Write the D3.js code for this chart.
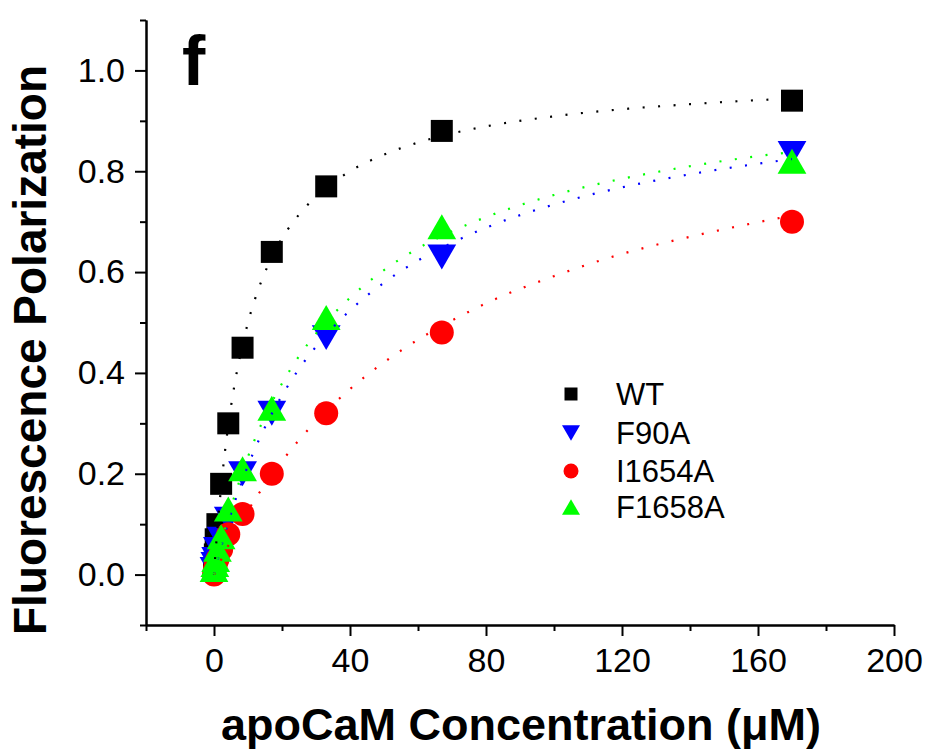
<!DOCTYPE html>
<html>
<head>
<meta charset="utf-8">
<script src="https://cdn.jsdelivr.net/npm/d3@7"></script>
<style>
    body { margin: 0; background: #fff; }
    text { font-family: "Liberation Sans", Arial, sans-serif; }
</style>
</head>
<body>
<div id="chart"></div>
<script>

// apoCaM concentration (uM) for each titration point
var concentrations = [170, 67, 33, 17, 8.4, 4.2, 2.1, 1.0, 0.5, 0.25, 0];

var wtValues     = [0.94, 0.88, 0.77, 0.64, 0.45, 0.30, 0.18, 0.10, 0.07, 0.04, 0.01];
var f90aValues   = [0.835, 0.63, 0.47, 0.32, 0.20, 0.11, 0.07, 0.05, 0.03, 0.02, 0.01];
var i1654aValues = [0.70, 0.48, 0.32, 0.20, 0.12, 0.08, 0.05, 0.03, 0.02, 0.01, 0.00];
var f1658aValues = [0.82, 0.69, 0.51, 0.33, 0.21, 0.13, 0.075, 0.05, 0.03, 0.02, 0.01];

// dotted fit lines
var fitX      = [0, 1, 2, 4, 6, 8, 10, 13, 16, 20, 25, 30, 40, 50, 60, 70, 80, 100, 120, 140, 160, 170];
var wtFit     = [0, 0.091, 0.167, 0.286, 0.375, 0.444, 0.50, 0.565, 0.615, 0.667, 0.714, 0.75, 0.80, 0.833, 0.857, 0.875, 0.889, 0.909, 0.923, 0.933, 0.941, 0.944];
var f90aFit   = [0, 0.027, 0.052, 0.099, 0.142, 0.181, 0.216, 0.264, 0.306, 0.355, 0.408, 0.452, 0.524, 0.579, 0.623, 0.658, 0.688, 0.734, 0.768, 0.794, 0.815, 0.824];
var i1654aFit = [0, 0.014, 0.028, 0.055, 0.080, 0.104, 0.127, 0.159, 0.189, 0.225, 0.267, 0.304, 0.368, 0.421, 0.466, 0.504, 0.538, 0.592, 0.636, 0.670, 0.699, 0.712];
var f1658aFit = [0, 0.030, 0.057, 0.109, 0.155, 0.196, 0.234, 0.284, 0.328, 0.379, 0.433, 0.478, 0.549, 0.604, 0.647, 0.681, 0.709, 0.753, 0.785, 0.810, 0.830, 0.838];

var seriesNames = ['WT', 'F90A', 'I1654A', 'F1658A'];
var seriesColors = ['#000000', '#0000ff', '#ff0000', '#00ff00'];
var seriesShapes = ['square', 'triangleDown', 'circle', 'triangleUp'];

var xMajorTicks = [0, 40, 80, 120, 160, 200];
var xMinorTicks = [-20, 20, 60, 100, 140, 180];
var yMajorTicks = [0.0, 0.2, 0.4, 0.6, 0.8, 1.0];
var yMinorTicks = [-0.1, 0.1, 0.3, 0.5, 0.7, 0.9, 1.1];

var series = [
    { values: wtValues, fit: wtFit },
    { values: f90aValues, fit: f90aFit },
    { values: i1654aValues, fit: i1654aFit },
    { values: f1658aValues, fit: f1658aFit }
];

var width = 930, height = 750;

var svg = d3.select('#chart').append('svg')
    .attr('width', width)
    .attr('height', height);

var x = d3.scaleLinear().domain([-20, 200]).range([146, 894]);
var y = d3.scaleLinear().domain([-0.1, 1.1]).range([625, 20]);

// marker path for a shape, s = nominal size in px
var shapePath = function(shape, s) {
    var h = s / 2;
    if (shape === 'square') {
        return 'M' + (-h) + ',' + (-h) + 'H' + h + 'V' + h + 'H' + (-h) + 'Z';
    }
    if (shape === 'circle') {
        return 'M' + h + ',0A' + h + ',' + h + ' 0 1,1 ' + (-h) + ',0A' + h + ',' + h + ' 0 1,1 ' + h + ',0Z';
    }
    var w = s * 0.6, th = s * 0.52;
    if (shape === 'triangleUp') {
        return 'M0,' + (-th) + 'L' + w + ',' + th + 'L' + (-w) + ',' + th + 'Z';
    }
    return 'M0,' + th + 'L' + w + ',' + (-th) + 'L' + (-w) + ',' + (-th) + 'Z';
};

var markerSizes = { square: 22, circle: 24, triangleUp: 24, triangleDown: 24 };

// axes
var axisStyle = function(g) {
    g.selectAll('path, line').attr('stroke', '#000').attr('stroke-width', 2);
    g.selectAll('text').attr('fill', '#000').style('font-size', '34px')
        .style('font-family', '"Liberation Sans", Arial, sans-serif');
};

svg.append('g')
    .attr('transform', 'translate(0,625)')
    .call(d3.axisBottom(x).tickValues(xMinorTicks).tickSize(6).tickSizeOuter(0).tickFormat(''))
    .call(axisStyle);

svg.append('g')
    .attr('transform', 'translate(0,625)')
    .call(d3.axisBottom(x).tickValues(xMajorTicks).tickSize(11).tickSizeOuter(0).tickPadding(12).tickFormat(d3.format('d')))
    .call(axisStyle);

svg.append('g')
    .attr('transform', 'translate(146,0)')
    .call(d3.axisLeft(y).tickValues(yMinorTicks).tickSize(6).tickSizeOuter(0).tickFormat(''))
    .call(axisStyle);

svg.append('g')
    .attr('transform', 'translate(146,0)')
    .call(d3.axisLeft(y).tickValues(yMajorTicks).tickSize(11).tickSizeOuter(0).tickPadding(10).tickFormat(d3.format('.1f')))
    .call(axisStyle);

// data markers
series.forEach(function(s, i) {
    svg.append('g')
        .attr('class', 'markers-' + i)
        .selectAll('path')
        .data(s.values)
        .enter()
        .append('path')
        .attr('transform', function(d, j) { return 'translate(' + x(concentrations[j]) + ',' + y(d) + ')'; })
        .attr('d', shapePath(seriesShapes[i], markerSizes[seriesShapes[i]]))
        .attr('fill', seriesColors[i]);
});

// dotted fits, drawn on top of the markers like in the original
var line = d3.line()
    .x(function(d, j) { return x(fitX[j]); })
    .y(function(d) { return y(d); })
    .curve(d3.curveMonotoneX);

series.forEach(function(s, i) {
    svg.append('path')
        .datum(s.fit)
        .attr('d', line)
        .attr('fill', 'none')
        .attr('stroke', seriesColors[i])
        .attr('stroke-width', 2.2)
        .attr('stroke-dasharray', '2,13.5');
});

// legend
var legend = svg.append('g').attr('class', 'legend');
var legendY = [394, 433, 471, 507];

seriesNames.forEach(function(name, i) {
    legend.append('path')
        .attr('transform', 'translate(571,' + legendY[i] + ')')
        .attr('d', shapePath(seriesShapes[i], seriesShapes[i] === 'square' ? 13 : 15))
        .attr('fill', seriesColors[i]);
    legend.append('text')
        .attr('x', 616)
        .attr('y', legendY[i] + 11)
        .style('font-size', '31px')
        .attr('fill', '#000')
        .text(name);
});

// titles
svg.append('text')
    .attr('transform', 'translate(46,350) rotate(-90)')
    .attr('text-anchor', 'middle')
    .style('font-size', '46px')
    .style('font-weight', 'bold')
    .text('Fluorescence Polarization');

svg.append('text')
    .attr('x', 521)
    .attr('y', 740)
    .attr('text-anchor', 'middle')
    .style('font-size', '45px')
    .style('font-weight', 'bold')
    .text('apoCaM Concentration (\u03bcM)');

svg.append('text')
    .attr('x', 182)
    .attr('y', 85)
    .style('font-size', '70px')
    .style('font-weight', 'bold')
    .text('f');

</script>
</body>
</html>
